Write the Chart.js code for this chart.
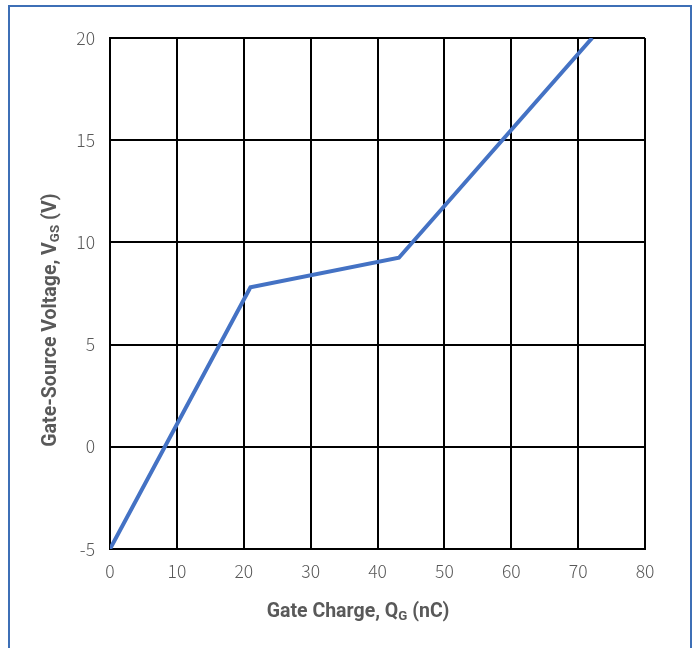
<!DOCTYPE html>
<html>
<head>
<meta charset="utf-8">
<script src="https://cdn.jsdelivr.net/npm/chart.js@4"></script>
<style>
  body { margin: 0; background: #fff; overflow: hidden; }
  #frame { position: absolute; left: 8px; top: 5px; width: 680px; height: 700px; border: 2px solid #3d6fb6; }
  #wrap { position: absolute; left: 0; top: 0; width: 696px; height: 648px; }
</style>
</head>
<body>
<div id="frame"></div>
<div id="wrap"><canvas id="qg" width="696" height="648"></canvas></div>
<script>
// gate charge curve, Q_G (nC) vs V_GS (V)
const chargeNC = [0, 21, 43.2, 72.1]
const voltageV = [-5, 7.8, 9.25, 20]

const xTicks = [0, 10, 20, 30, 40, 50, 60, 70, 80]
const yTicks = [-5, 0, 5, 10, 15, 20]

const labelGray = '#595959'
const tickFont = { family: '"Noto Sans CJK SC", "Noto Sans", sans-serif', size: 17.5, weight: '300' }
const titleFamily = 'Roboto, "Liberation Sans", Arial, sans-serif'

// draws text with a subscript part: parts = [[text, isSub], ...]
function drawRich(ctx, parts, x, y, size) {
  let total = 0
  parts.forEach(p => {
    ctx.font = 'bold ' + (p[1] ? size * 0.68 : size) + 'px ' + titleFamily
    total += ctx.measureText(p[0]).width
  })
  let cx = x - total / 2
  parts.forEach(p => {
    ctx.font = 'bold ' + (p[1] ? size * 0.68 : size) + 'px ' + titleFamily
    ctx.fillText(p[0], cx, p[1] ? y + size * 0.22 : y)
    cx += ctx.measureText(p[0]).width
  })
}

const axisTitles = {
  id: 'axisTitles',
  afterDraw(chart) {
    const ctx = chart.ctx
    ctx.save()
    ctx.fillStyle = labelGray
    ctx.textBaseline = 'middle'
    ctx.textAlign = 'left'
    drawRich(ctx, [['Gate Charge, Q', false], ['G', true], [' (nC)', false]], 358, 612, 19.5)
    ctx.translate(51, 320)
    ctx.rotate(-Math.PI / 2)
    drawRich(ctx, [['Gate-Source Voltage, V', false], ['GS', true], [' (V)', false]], 0, 0, 19.5)
    ctx.restore()
  }
}

const ctx = document.getElementById('qg').getContext('2d')
new Chart(ctx, {
  type: 'scatter',
  data: {
    datasets: [{
      data: chargeNC.map((q, i) => ({ x: q, y: voltageV[i] })),
      showLine: true,
      borderColor: '#4472c4',
      borderWidth: 4,
      pointRadius: 0,
      tension: 0
    }]
  },
  options: {
    responsive: false,
    animation: false,
    layout: { padding: { left: 0, top: 38, right: 51, bottom: 0 } },
    plugins: { legend: { display: false }, tooltip: { enabled: false } },
    scales: {
      x: {
        type: 'linear', min: 0, max: 80,
        afterBuildTicks: s => { s.ticks = xTicks.map(v => ({ value: v })) },
        afterFit: s => { s.height = 99 },
        grid: { color: '#000', lineWidth: 2, drawTicks: false },
        border: { color: '#000', width: 2 },
        ticks: { color: labelGray, font: tickFont, padding: 12, maxRotation: 0 }
      },
      y: {
        type: 'linear', min: -5, max: 20,
        afterBuildTicks: s => { s.ticks = yTicks.map(v => ({ value: v })) },
        afterFit: s => { s.width = 110 },
        grid: { color: '#000', lineWidth: 2, drawTicks: false },
        border: { color: '#000', width: 2 },
        ticks: { color: labelGray, font: tickFont, padding: 15 }
      }
    }
  },
  plugins: [axisTitles]
})
</script>
</body>
</html>
